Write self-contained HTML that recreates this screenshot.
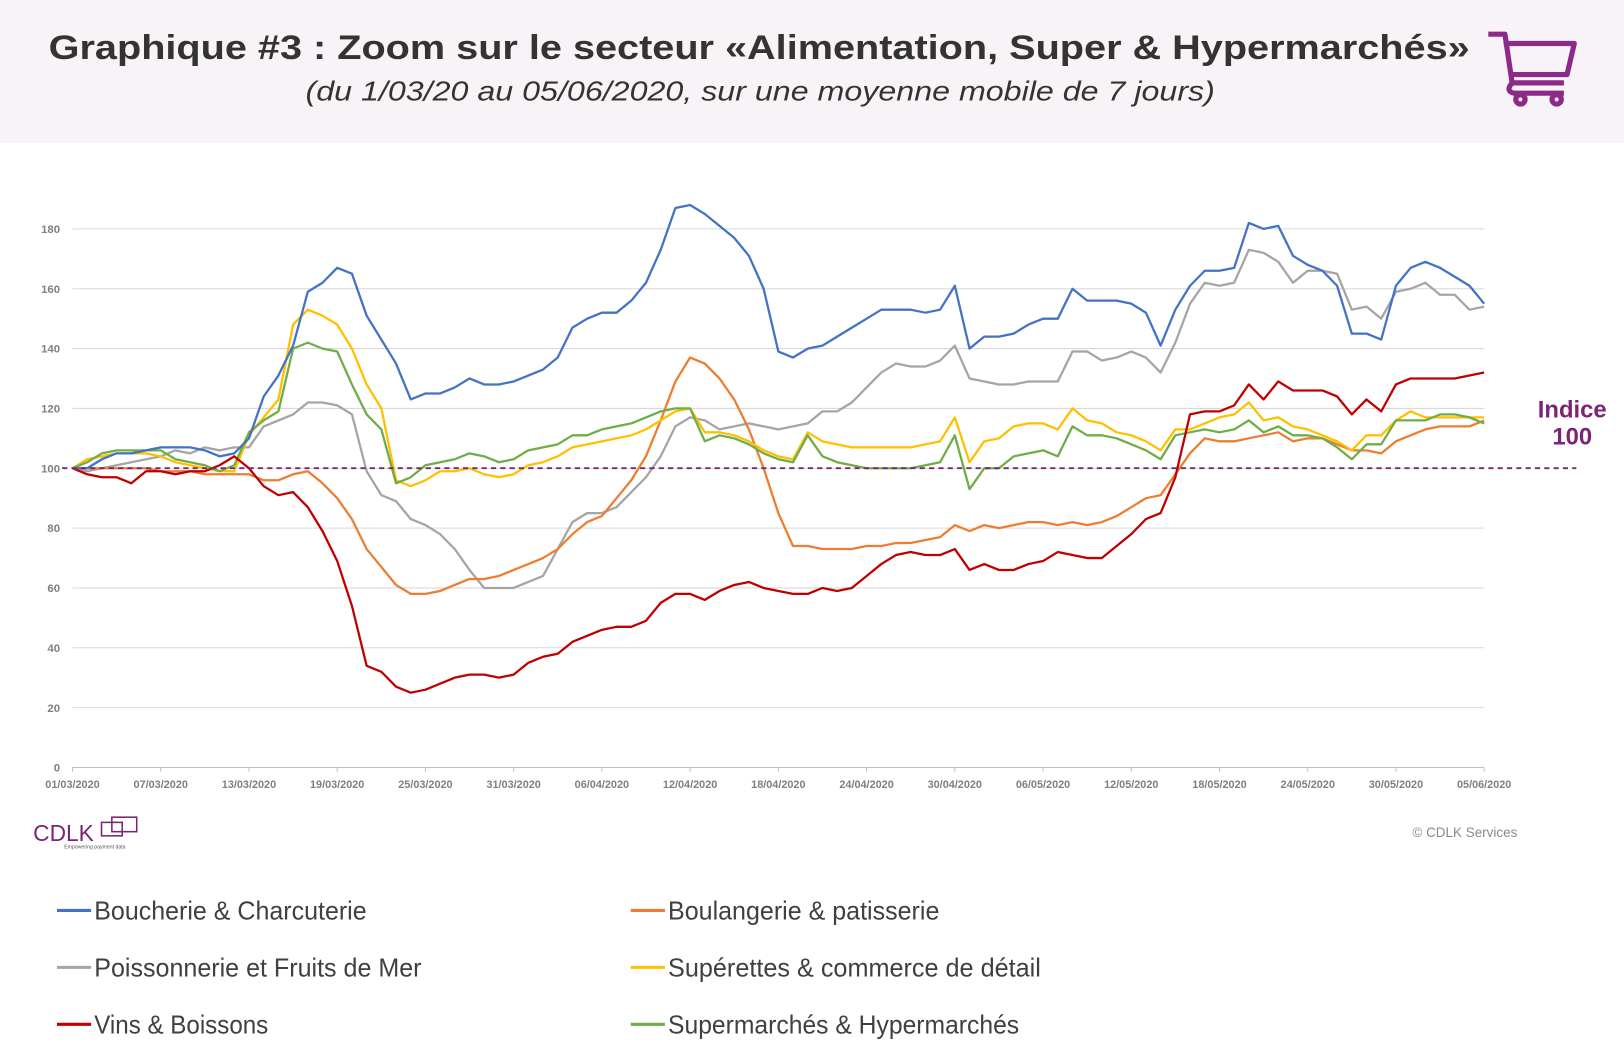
<!DOCTYPE html>
<html><head><meta charset="utf-8">
<style>
html,body{margin:0;padding:0;background:#fff;}
svg{display:block;}
text{font-family:"Liberation Sans",sans-serif;}
</style></head>
<body>
<svg id="s" width="1624" height="1064" viewBox="0 0 1568 1027.3" preserveAspectRatio="none" xmlns="http://www.w3.org/2000/svg">
<rect x="0" y="0" width="1568" height="138" fill="#f7f3f7"/>
<text x="733" y="57" text-anchor="middle" font-size="33" font-weight="bold" fill="#333" textLength="1372" lengthAdjust="spacingAndGlyphs">Graphique #3 : Zoom sur le secteur «Alimentation, Super &amp; Hypermarchés»</text>
<text x="734" y="97" text-anchor="middle" font-size="27" font-style="italic" fill="#333" textLength="878" lengthAdjust="spacingAndGlyphs">(du 1/03/20 au 05/06/2020, sur une moyenne mobile de 7 jours)</text>
<g fill="none" stroke="#8b2a88" stroke-width="5" stroke-linejoin="round">
<path d="M1437 33 H1453 L1460 80 H1510"/>
<path d="M1452 42 H1520 L1513 72 H1458"/>
<path d="M1460 80 Q1453 88 1462 90 H1510"/>
<circle cx="1468" cy="96" r="4.5"/><circle cx="1503" cy="96" r="4.5"/>
</g>
<g id="grid" stroke="#d9d9d9" stroke-width="1"></g>
<g id="ylab" font-size="11" fill="#7f7f7f" font-weight="bold" text-anchor="end"></g>
<g id="xlab" font-size="10.5" fill="#7f7f7f" font-weight="bold" text-anchor="middle"></g>
<g id="series" fill="none" stroke-width="2.2" stroke-linejoin="round"></g>
<line x1="60" y1="452" x2="1522" y2="452" stroke="#7b2577" stroke-width="1.8" stroke-dasharray="5,4"/>
<text x="1518" y="403" text-anchor="middle" font-size="23" font-weight="bold" fill="#7b2577">Indice</text>
<text x="1518" y="429" text-anchor="middle" font-size="23" font-weight="bold" fill="#7b2577">100</text>
<text x="32" y="812" font-size="22" fill="#7b2577">CDLK</text>
<g fill="none" stroke="#7b2577" stroke-width="1.5"><rect x="98" y="794" width="20" height="13"/><rect x="108" y="789" width="24" height="14"/></g>
<text x="62" y="819" font-size="5" fill="#555">Empowering payment data</text>
<text x="1465" y="808" text-anchor="end" font-size="13" fill="#8a8a8a">© CDLK Services</text>
<g font-size="25" fill="#404040">
<line x1="55" y1="879" x2="88" y2="879" stroke="#4472c4" stroke-width="3"/>
<text x="91" y="888" textLength="263" lengthAdjust="spacingAndGlyphs">Boucherie &amp; Charcuterie</text>
<line x1="55" y1="934" x2="88" y2="934" stroke="#a5a5a5" stroke-width="3"/>
<text x="91" y="943" textLength="316" lengthAdjust="spacingAndGlyphs">Poissonnerie et Fruits de Mer</text>
<line x1="55" y1="989" x2="88" y2="989" stroke="#c00000" stroke-width="3"/>
<text x="91" y="998" textLength="168" lengthAdjust="spacingAndGlyphs">Vins &amp; Boissons</text>
<line x1="609" y1="879" x2="642" y2="879" stroke="#ed7d31" stroke-width="3"/>
<text x="645" y="888" textLength="262" lengthAdjust="spacingAndGlyphs">Boulangerie &amp; patisserie</text>
<line x1="609" y1="934" x2="642" y2="934" stroke="#ffc000" stroke-width="3"/>
<text x="645" y="943" textLength="360" lengthAdjust="spacingAndGlyphs">Supérettes &amp; commerce de détail</text>
<line x1="609" y1="989" x2="642" y2="989" stroke="#70ad47" stroke-width="3"/>
<text x="645" y="998" textLength="339" lengthAdjust="spacingAndGlyphs">Supermarchés &amp; Hypermarchés</text>
</g>
</svg>
<script>
var NS="http://www.w3.org/2000/svg";
function el(p,t,a,txt){var e=document.createElementNS(NS,t);for(var k in a)e.setAttribute(k,a[k]);if(txt)e.textContent=txt;document.getElementById(p).appendChild(e);}
function X(d){return 70+d*1363/96;}
function Y(v){return 741-v*520/180;}
for(var v=0;v<=180;v+=20){if(v>0)el("grid","line",{x1:70,x2:1433,y1:Y(v),y2:Y(v)});el("ylab","text",{x:58,y:Y(v)+4},""+v);}
el("grid","line",{x1:70,x2:1433,y1:741,y2:741,stroke:"#bfbfbf"});
var labs=["01/03/2020","07/03/2020","13/03/2020","19/03/2020","25/03/2020","31/03/2020","06/04/2020","12/04/2020","18/04/2020","24/04/2020","30/04/2020","06/05/2020","12/05/2020","18/05/2020","24/05/2020","30/05/2020","05/06/2020"];
for(var i=0;i<labs.length;i++){el("xlab","text",{x:X(i*6),y:761},labs[i]);el("grid","line",{x1:X(i*6),x2:X(i*6),y1:741,y2:745,stroke:"#bfbfbf"});}
var S={
"#a5a5a5":[100,99,100,101,102,103,104,106,105,107,106,107,107,114,116,118,122,122,121,118,99,91,89,83,81,78,73,66,60,60,60,62,64,73,82,85,85,87,92,97,104,114,117,116,113,114,115,114,113,114,115,119,119,122,127,132,135,134,134,136,141,130,129,128,128,129,129,129,139,139,136,137,139,137,132,142,155,162,161,162,173,172,169,162,166,166,165,153,154,150,159,160,162,158,158,153,154],
"#ed7d31":[100,100,100,100,100,100,99,99,99,98,98,98,98,96,96,98,99,95,90,83,73,67,61,58,58,59,61,63,63,64,66,68,70,73,78,82,84,90,96,104,116,129,137,135,130,123,113,100,85,74,74,73,73,73,74,74,75,75,76,77,81,79,81,80,81,82,82,81,82,81,82,84,87,90,91,98,105,110,109,109,110,111,112,109,110,110,108,106,106,105,109,111,113,114,114,114,116],
"#ffc000":[100,103,104,105,105,105,104,102,101,100,99,99,111,117,123,148,153,151,148,140,128,120,96,94,96,99,99,100,98,97,98,101,102,104,107,108,109,110,111,113,116,119,120,112,112,111,109,106,104,103,112,109,108,107,107,107,107,107,108,109,117,102,109,110,114,115,115,113,120,116,115,112,111,109,106,113,113,115,117,118,122,116,117,114,113,111,109,106,111,111,116,119,117,117,117,117,117],
"#70ad47":[100,102,105,106,106,106,106,103,102,101,99,101,112,116,119,140,142,140,139,128,118,113,95,97,101,102,103,105,104,102,103,106,107,108,111,111,113,114,115,117,119,120,120,109,111,110,108,105,103,102,111,104,102,101,100,100,100,100,101,102,111,93,100,100,104,105,106,104,114,111,111,110,108,106,103,111,112,113,112,113,116,112,114,111,111,110,107,103,108,108,116,116,116,118,118,117,115],
"#c00000":[100,98,97,97,95,99,99,98,99,99,101,104,100,94,91,92,87,79,69,54,34,32,27,25,26,28,30,31,31,30,31,35,37,38,42,44,46,47,47,49,55,58,58,56,59,61,62,60,59,58,58,60,59,60,64,68,71,72,71,71,73,66,68,66,66,68,69,72,71,70,70,74,78,83,85,97,118,119,119,121,128,123,129,126,126,126,124,118,123,119,128,130,130,130,130,131,132],
"#4472c4":[100,100,103,105,105,106,107,107,107,106,104,105,110,124,131,141,159,162,167,165,151,143,135,123,125,125,127,130,128,128,129,131,133,137,147,150,152,152,156,162,173,187,188,185,181,177,171,160,139,137,140,141,144,147,150,153,153,153,152,153,161,140,144,144,145,148,150,150,160,156,156,156,155,152,141,153,161,166,166,167,182,180,181,171,168,166,161,145,145,143,161,167,169,167,164,161,155]
};
for(var c in S){var a=S[c],p=[];for(var i=0;i<a.length;i++)p.push(X(i).toFixed(1)+","+Y(a[i]).toFixed(1));el("series","polyline",{points:p.join(" "),stroke:c});}
</script>
</body></html>
